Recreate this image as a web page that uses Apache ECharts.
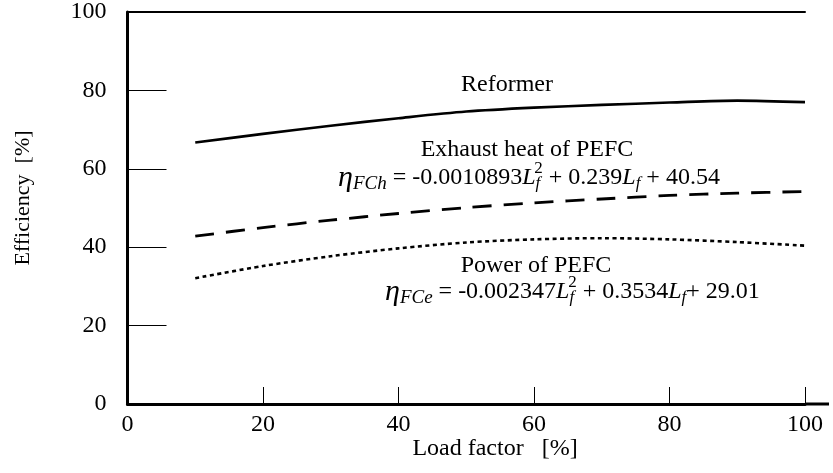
<!DOCTYPE html>
<html><head><meta charset="utf-8">
<script src="https://cdn.jsdelivr.net/npm/echarts@6/dist/echarts.min.js"></script>
<style>html,body{margin:0;padding:0;background:#fff}#c{width:833px;height:473px}</style>
</head><body><div id="c"></div>
<script>
const loadFactor = [10, 20, 30, 40, 50, 60, 70, 80, 90, 100];
const reformer = [66.7, 68.9, 71.0, 72.9, 74.6, 75.6, 76.3, 76.9, 77.4, 77.0];
const exhaustHeat = [42.8, 45.0, 46.9, 48.6, 50.1, 51.3, 52.3, 53.2, 53.8, 54.2];
const powerPEFC = [32.1, 35.2, 37.7, 39.7, 41.2, 42.0, 42.3, 42.0, 41.3, 40.4];
const xRange = [0, 100];
const yRange = [0, 100];
const tickStep = 20;
const xName = 'Load factor   [%]';
const yName = 'Efficiency  [%]';
const labels = ['Reformer', 'Exhaust heat of PEFC', 'Power of PEFC'];

const FONT = 'Liberation Serif';
const pair = (xs, ys) => xs.map((x, i) => [x, ys[i]]);

const chart = echarts.init(document.getElementById('c'), null, {renderer: 'canvas'});
const richF = {
  n: {fontFamily: FONT, fontSize: 24, color: '#000'},
  eta: {fontFamily: FONT, fontStyle: 'italic', fontSize: 30, color: '#000'},
  sub: {fontFamily: FONT, fontStyle: 'italic', fontSize: 19, color: '#000', padding: [12, 0, 0, 0]},
  it: {fontFamily: FONT, fontStyle: 'italic', fontSize: 24, color: '#000'},
  sub2: {fontFamily: FONT, fontStyle: 'italic', fontSize: 17, color: '#000', padding: [12, 0, 0, 0]},
  sup: {fontFamily: FONT, fontSize: 17, color: '#000', padding: [0, 0, 18, -6]}
};
const option = {
  animation: false,
  backgroundColor: '#fff',
  grid: {left: 127.5, right: 28, top: 12, bottom: 69, containLabel: false, outerBoundsMode: 'none'},
  xAxis: [{
    type: 'value', min: xRange[0], max: xRange[1], interval: tickStep,
    axisLine: {show: true, lineStyle: {color: '#000', width: 3}},
    axisTick: {show: true, inside: true, length: 17, lineStyle: {color: '#000', width: 1}},
    axisLabel: {fontFamily: FONT, fontSize: 24, color: '#000', margin: 9},
    splitLine: {show: false}
  }, {
    type: 'value', position: 'top', min: xRange[0], max: xRange[1], interval: tickStep,
    axisLine: {show: true, lineStyle: {color: '#000', width: 2}},
    axisTick: {show: false}, axisLabel: {show: false}, splitLine: {show: false}
  }],
  yAxis: {
    type: 'value', min: yRange[0], max: yRange[1], interval: tickStep,
    axisLine: {show: true, lineStyle: {color: '#000', width: 3}},
    axisTick: {show: true, inside: true, length: 39, lineStyle: {color: '#000', width: 1}},
    axisLabel: {fontFamily: FONT, fontSize: 24, color: '#000', margin: 21},
    splitLine: {show: false}
  },
  series: [{
    name: labels[0], type: 'line', data: pair(loadFactor, reformer), smooth: 0.3,
    symbol: 'none', lineStyle: {color: '#000', width: 2.6, type: 'solid'}
  }, {
    name: labels[1], type: 'line', data: pair(loadFactor, exhaustHeat), smooth: 0.3,
    symbol: 'none', lineStyle: {color: '#000', width: 2.8, type: [19, 12]}
  }, {
    name: labels[2], type: 'line', data: pair(loadFactor, powerPEFC), smooth: 0.3,
    symbol: 'none', lineStyle: {color: '#000', width: 2.6, type: [4, 3.5]}
  }],
  graphic: [
    {type: 'line', shape: {x1: 805, y1: 404, x2: 829, y2: 404}, style: {stroke: '#000', lineWidth: 3}},
    {type: 'text', x: 495, y: 449, style: {text: xName, font: '24px "Liberation Serif"', fill: '#000', align: 'center', verticalAlign: 'middle'}},
    {type: 'text', x: 23, y: 198, rotation: Math.PI / 2, style: {text: yName, font: '22px "Liberation Serif"', fill: '#000', align: 'center', verticalAlign: 'middle'}},
    {type: 'text', x: 507, y: 85, style: {text: labels[0], font: '24px "Liberation Serif"', fill: '#000', align: 'center', verticalAlign: 'middle'}},
    {type: 'text', x: 527, y: 150, style: {text: labels[1], font: '24px "Liberation Serif"', fill: '#000', align: 'center', verticalAlign: 'middle'}},
    {type: 'text', x: 536, y: 266, style: {text: labels[2], font: '24px "Liberation Serif"', fill: '#000', align: 'center', verticalAlign: 'middle'}},
    {type: 'text', x: 338, y: 178, style: {
      text: '{eta|η}{sub|FCh}{n| = -0.0010893}{it|L}{sub2|f}{sup|2}{n| + 0.239}{it|L}{sub2|f}{n| + 40.54}',
      rich: richF, align: 'left', verticalAlign: 'middle'}},
    {type: 'text', x: 385, y: 292, style: {
      text: '{eta|η}{sub|FCe}{n| = -0.002347}{it|L}{sub2|f}{sup|2}{n| + 0.3534}{it|L}{sub2|f}{n|+ 29.01}',
      rich: richF, align: 'left', verticalAlign: 'middle'}}
  ]
};
chart.setOption(option);
</script></body></html>
